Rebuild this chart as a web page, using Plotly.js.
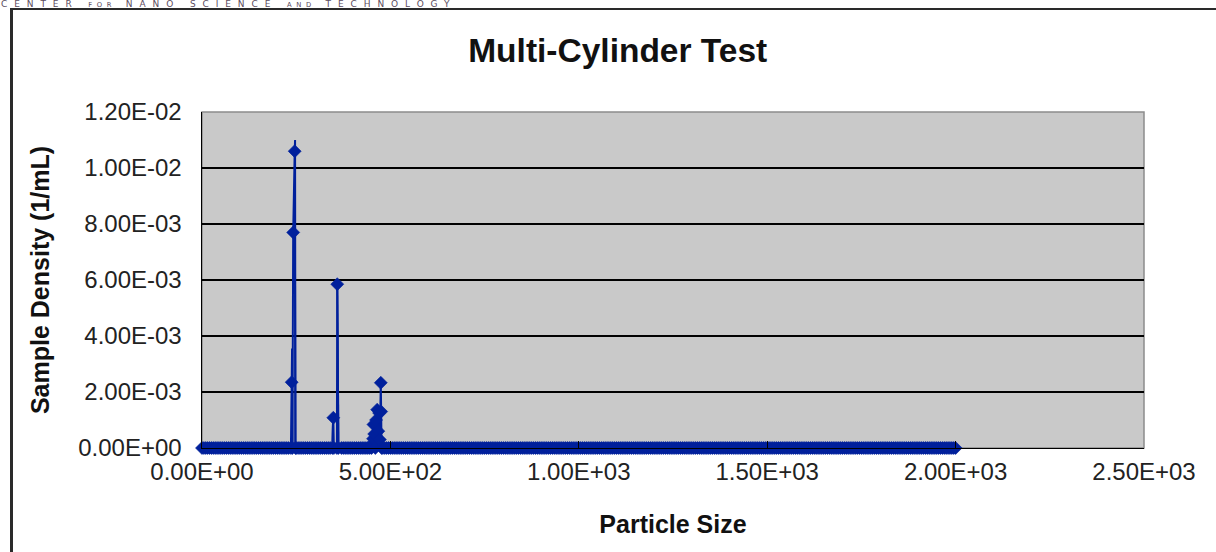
<!DOCTYPE html>
<html>
<head>
<meta charset="utf-8">
<script src="https://cdn.plot.ly/plotly-3.0.1.min.js"></script>
<style>
  html, body { margin: 0; padding: 0; background: #ffffff; overflow: hidden; }
  #wrap { position: relative; width: 1216px; height: 552px; overflow: hidden; }
  #chart { position: absolute; left: 0; top: 0; width: 1216px; height: 552px; }
  #frame { position: absolute; left: 10px; top: 8px; width: 1400px; height: 800px;
           border-top: 2px solid #2a2a2a; border-left: 3px solid #2a2a2a; pointer-events: none; }
  #header { position: absolute; left: 1px; top: 0px; font-family: "DejaVu Sans", sans-serif;
            font-size: 9px; line-height: 9px; letter-spacing: 6.9px; color: #5c4c5e; white-space: nowrap; }
  #header .sm { font-size: 6.8px; letter-spacing: 4.6px; }
</style>
</head>
<body>
<div id="wrap">
  <div id="chart"></div>
  <div id="frame"></div>
  <div id="header">CENTER <span class="sm">FOR</span> NANO SCIENCE <span class="sm">AND</span> TECHNOLOGY</div>
</div>
<script>
// Particle sizes where the density reads zero (dense baseline band)
const baselineSizes = [
  0,5,10,15,20,25,30,35,40,45,50,55,60,65,70,75,80,85,90,95,
  100,105,110,115,120,125,130,135,140,145,150,155,160,165,170,175,180,185,190,195,
  200,205,210,215,220,225,230,
  250,255,260,265,270,275,280,285,290,295,
  300,305,310,315,320,325,330,335,340,350,
  370,375,380,385,390,395,
  400,405,410,415,420,425,430,435,440,445,450,
  480,485,490,495,
  500,505,510,515,520,525,530,535,540,545,550,555,560,565,570,575,580,585,590,595,
  600,605,610,615,620,625,630,635,640,645,650,655,660,665,670,675,680,685,690,695,
  700,705,710,715,720,725,730,735,740,745,750,755,760,765,770,775,780,785,790,795,
  800,805,810,815,820,825,830,835,840,845,850,855,860,865,870,875,880,885,890,895,
  900,905,910,915,920,925,930,935,940,945,950,955,960,965,970,975,980,985,990,995,
  1000,1005,1010,1015,1020,1025,1030,1035,1040,1045,1050,1055,1060,1065,1070,1075,1080,1085,1090,1095,
  1100,1105,1110,1115,1120,1125,1130,1135,1140,1145,1150,1155,1160,1165,1170,1175,1180,1185,1190,1195,
  1200,1205,1210,1215,1220,1225,1230,1235,1240,1245,1250,1255,1260,1265,1270,1275,1280,1285,1290,1295,
  1300,1305,1310,1315,1320,1325,1330,1335,1340,1345,1350,1355,1360,1365,1370,1375,1380,1385,1390,1395,
  1400,1405,1410,1415,1420,1425,1430,1435,1440,1445,1450,1455,1460,1465,1470,1475,1480,1485,1490,1495,
  1500,1505,1510,1515,1520,1525,1530,1535,1540,1545,1550,1555,1560,1565,1570,1575,1580,1585,1590,1595,
  1600,1605,1610,1615,1620,1625,1630,1635,1640,1645,1650,1655,1660,1665,1670,1675,1680,1685,1690,1695,
  1700,1705,1710,1715,1720,1725,1730,1735,1740,1745,1750,1755,1760,1765,1770,1775,1780,1785,1790,1795,
  1800,1805,1810,1815,1820,1825,1830,1835,1840,1845,1850,1855,1860,1865,1870,1875,1880,1885,1890,1895,
  1900,1905,1910,1915,1920,1925,1930,1935,1940,1945,1950,1955,1960,1965,1970,1975,1980,1985,1990,1995,
  2000
];
const baselineDensity = [
  0,0,0,0,0,0,0,0,0,0,0,0,0,0,0,0,0,0,0,0,
  0,0,0,0,0,0,0,0,0,0,0,0,0,0,0,0,0,0,0,0,
  0,0,0,0,0,0,0,
  0,0,0,0,0,0,0,0,0,0,
  0,0,0,0,0,0,0,0,0,0,
  0,0,0,0,0,0,
  0,0,0,0,0,0,0,0,0,0,0,
  0,0,0,0,
  0,0,0,0,0,0,0,0,0,0,0,0,0,0,0,0,0,0,0,0,
  0,0,0,0,0,0,0,0,0,0,0,0,0,0,0,0,0,0,0,0,
  0,0,0,0,0,0,0,0,0,0,0,0,0,0,0,0,0,0,0,0,
  0,0,0,0,0,0,0,0,0,0,0,0,0,0,0,0,0,0,0,0,
  0,0,0,0,0,0,0,0,0,0,0,0,0,0,0,0,0,0,0,0,
  0,0,0,0,0,0,0,0,0,0,0,0,0,0,0,0,0,0,0,0,
  0,0,0,0,0,0,0,0,0,0,0,0,0,0,0,0,0,0,0,0,
  0,0,0,0,0,0,0,0,0,0,0,0,0,0,0,0,0,0,0,0,
  0,0,0,0,0,0,0,0,0,0,0,0,0,0,0,0,0,0,0,0,
  0,0,0,0,0,0,0,0,0,0,0,0,0,0,0,0,0,0,0,0,
  0,0,0,0,0,0,0,0,0,0,0,0,0,0,0,0,0,0,0,0,
  0,0,0,0,0,0,0,0,0,0,0,0,0,0,0,0,0,0,0,0,
  0,0,0,0,0,0,0,0,0,0,0,0,0,0,0,0,0,0,0,0,
  0,0,0,0,0,0,0,0,0,0,0,0,0,0,0,0,0,0,0,0,
  0,0,0,0,0,0,0,0,0,0,0,0,0,0,0,0,0,0,0,0,
  0
];

// Peak regions, drawn with markers
const peakSizes   = [236, 238, 240, 242, 246, 248,
                     346, 348.5, 358, 359, 362,
                     452, 454, 455, 457, 460, 462, 465, 468, 470, 472, 474.5, 475.5, 476.5];
const peakDensity = [0, 0.00235, 0, 0.0077, 0.0106, 0,
                     0, 0.00108, 0, 0.00585, 0,
                     0.00015, 0.00033, 0.00084, 0.0005, 0, 0.001, 0.00137, 0.0006, 0.00125, 0.0003, 0.00233, 0.0013, 0];

// Line segments drawn without markers
const tipSizes   = [238, 239, 240, null, 246, 247, 248, null, 348.5, 347, 346.5, null, 359, 360, 361, 362];
const tipDensity = [0.00235, 0.00355, 0, null, 0.0106, 0.0110, 0, null, 0.00108, 0.00074, 0, null, 0.00585, 0.00285, 0.0029, 0];

// Tick labels
const xTickVals = [0, 500, 1000, 1500, 2000, 2500];
const xTickText = ["0.00E+00", "5.00E+02", "1.00E+03", "1.50E+03", "2.00E+03", "2.50E+03"];
const yTickVals = [0, 0.002, 0.004, 0.006, 0.008, 0.010, 0.012];
const yTickText = ["0.00E+00", "2.00E-03", "4.00E-03", "6.00E-03", "8.00E-03", "1.00E-02", "1.20E-02"];

// merge and sort by size
const pts = [];
baselineSizes.forEach((s, i) => pts.push([s, baselineDensity[i]]));
peakSizes.forEach((s, i) => pts.push([s, peakDensity[i]]));
pts.sort((a, b) => a[0] - b[0]);
const allSizes = pts.map(p => p[0]);
const allDensity = pts.map(p => p[1]);

const blue = '#00209c';
const fontFam = '"Liberation Sans", Arial, sans-serif';

const traces = [
  {
    type: 'scatter', mode: 'lines', x: tipSizes, y: tipDensity,
    line: { color: blue, width: 2 }, connectgaps: false,
    cliponaxis: false, showlegend: false, hoverinfo: 'skip'
  },
  {
    type: 'scatter', mode: 'lines+markers', x: allSizes, y: allDensity,
    line: { color: blue, width: 2 },
    marker: { symbol: 'diamond', size: 10, color: blue, line: { color: blue, width: 0.6 } },
    cliponaxis: false, showlegend: false, hoverinfo: 'skip'
  }
];

const layout = {
  width: 1216, height: 552,
  margin: { l: 202, r: 72, t: 112, b: 104 },
  paper_bgcolor: 'rgba(0,0,0,0)',
  plot_bgcolor: '#c9c9c9',
  showlegend: false,
  title: {
    text: '<b>Multi-Cylinder Test</b>',
    font: { family: fontFam, size: 33.5, color: '#111' },
    xref: 'container', x: 0.508, xanchor: 'center',
    yref: 'container', y: 1 - 50 / 552, yanchor: 'middle'
  },
  xaxis: {
    range: [0, 2500], tickvals: xTickVals, ticktext: xTickText,
    showgrid: false, zeroline: false,
    showline: true, linecolor: '#000', linewidth: 1.2,
    ticks: 'inside', ticklen: 7, tickcolor: '#000', tickwidth: 1.2,
    layer: 'above traces',
    tickfont: { family: fontFam, size: 24, color: '#222' },
    ticklabelstandoff: 2,
    title: { text: '<b>Particle Size</b>', font: { family: fontFam, size: 25, color: '#111' }, standoff: 31 },
    automargin: false
  },
  yaxis: {
    range: [0, 0.012], tickvals: yTickVals, ticktext: yTickText,
    showgrid: true, gridcolor: '#000', gridwidth: 1.2,
    zeroline: false,
    showline: true, linecolor: '#000', linewidth: 1.5,
    ticks: '', layer: 'above traces',
    tickfont: { family: fontFam, size: 24, color: '#222' },
    ticklabelstandoff: 14,
    title: { text: '<b>Sample Density (1/mL)</b>', font: { family: fontFam, size: 25, color: '#111' }, standoff: 21 },
    automargin: false
  },
  shapes: [
    { type: 'rect', xref: 'paper', yref: 'paper', x0: 0, x1: 1, y0: 0, y1: 1,
      line: { color: '#8c8c8c', width: 1.5 }, layer: 'below' }
  ]
};

Plotly.newPlot('chart', traces, layout, { displayModeBar: false, staticPlot: true });
</script>
</body>
</html>
